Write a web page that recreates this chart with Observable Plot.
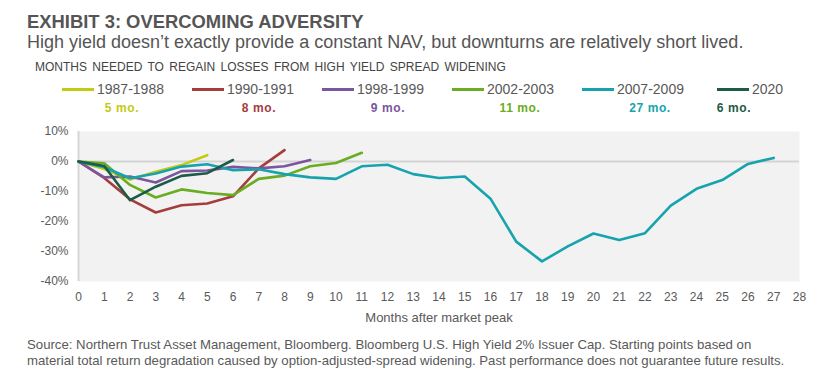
<!DOCTYPE html>
<html>
<head>
<meta charset="utf-8">
<script src="https://cdn.jsdelivr.net/npm/d3@7"></script>
<script src="https://cdn.jsdelivr.net/npm/@observablehq/plot@0.6"></script>
<style>
  html, body { margin: 0; padding: 0; background: #fff; }
  body { width: 834px; height: 381px; position: relative; overflow: hidden; font-family: "Liberation Sans", Arial, sans-serif; color: #595959; }
  .abs { position: absolute; white-space: nowrap; line-height: 1; }
  #title { left: 27px; top: 12.5px; font-size: 18.4px; font-weight: bold; color: #555; }
  #subtitle { left: 27px; top: 32.5px; font-size: 18px; color: #555; }
  #subhead { left: 35px; top: 60.5px; font-size: 12px; color: #444; word-spacing: 2px; }
  .leg { position: absolute; white-space: nowrap; line-height: 1; font-size: 14px; color: #595959; }
  .leg .sw { display: inline-block; width: 32px; height: 3px; vertical-align: middle; margin-right: 3px; position: relative; top: -1px; }
  .mo { position: absolute; white-space: nowrap; line-height: 1; font-size: 12px; font-weight: bold; letter-spacing: 0.6px; transform: translateX(-50%); }
  #chart { position: absolute; left: 0; top: 120px; }
  #source { left: 27px; top: 337px; font-size: 13.2px; line-height: 16px; color: #595959; }
</style>
</head>
<body>
<div id="title" class="abs">EXHIBIT 3: OVERCOMING ADVERSITY</div>
<div id="subtitle" class="abs">High yield doesn’t exactly provide a constant NAV, but downturns are relatively short lived.</div>
<div id="subhead" class="abs">MONTHS NEEDED TO REGAIN LOSSES FROM HIGH YIELD SPREAD WIDENING</div>
<div id="legend"></div>
<div id="chart"></div>
<div id="source" class="abs">Source: Northern Trust Asset Management, Bloomberg. Bloomberg U.S. High Yield 2% Issuer Cap. Starting points based on<br>material total return degradation caused by option-adjusted-spread widening. Past performance does not guarantee future results.</div>
<script>
// ---- data ----
const seriesNames = ["1987-1988", "1990-1991", "1998-1999", "2002-2003", "2007-2009", "2020"];
const seriesColors = ["#c2cb14", "#a63c3c", "#7b559d", "#6aac22", "#17a3ae", "#1c5b45"];
const recoveryLabels = ["5 mo.", "8 mo.", "9 mo.", "11 mo.", "27 mo.", "6 mo."];
const monthTicks = d3.range(0, 29);
const yTicks = [-40, -30, -20, -10, 0, 10];

const s1987 = [0, -2.5, -6.0, -3.4, -1.2, 2.1];
const s1990 = [0, -5.5, -12.6, -17.0, -14.6, -14.0, -11.6, -2.3, 3.8];
const s1998 = [0, -5.3, -5.0, -7.0, -3.2, -3.0, -1.8, -2.3, -1.6, 0.5];
const s2002 = [0, -0.6, -7.8, -12.0, -9.3, -10.5, -11.2, -5.8, -4.7, -1.6, -0.5, 2.9];
const s2007 = [0, -1.9, -5.6, -4.0, -1.7, -0.9, -2.9, -2.6, -4.2, -5.3, -5.8, -1.6, -1.1, -4.2, -5.5, -5.0, -12.4, -26.7, -33.3, -28.3, -24.0, -26.2, -23.9, -14.7, -9.1, -6.2, -0.8, 1.2];
const s2020 = [0, -1.5, -12.9, -8.4, -4.8, -3.9, 0.5];
const seriesValues = [s1987, s1990, s1998, s2002, s2007, s2020];

// ---- table ----
const data = seriesNames.flatMap((name, i) => seriesValues[i].map((v, m) => ({series: name, month: m, value: v})));

// ---- legend ----
const legend = document.getElementById("legend");
const legX = [62, 192, 322, 452, 582, 717];
const moX = [122, 259, 388, 520, 650, 734];
seriesNames.forEach((name, i) => {
  const d = document.createElement("div");
  d.className = "leg";
  d.style.left = legX[i] + "px";
  d.style.top = "82px";
  d.innerHTML = `<span class="sw" style="background:${seriesColors[i]}"></span>${name}`;
  legend.appendChild(d);
  const m = document.createElement("div");
  m.className = "mo";
  m.style.left = moX[i] + "px";
  m.style.top = "102px";
  m.style.color = seriesColors[i];
  m.textContent = recoveryLabels[i];
  legend.appendChild(m);
});

// ---- chart ----
const chart = Plot.plot({
  width: 834,
  height: 205,
  marginLeft: 78,
  marginRight: 35,
  marginTop: 11,
  marginBottom: 44,
  style: {fontFamily: "'Liberation Sans', Arial, sans-serif", fontSize: "12px", color: "#595959", background: "transparent", overflow: "visible"},
  x: {domain: [0, 28], ticks: monthTicks, tickSize: 0, tickPadding: 11, label: "Months after market peak", labelAnchor: "center", labelOffset: 40, labelArrow: "none"},
  y: {domain: [-40, 10], ticks: yTicks, tickSize: 0, tickPadding: 10, tickFormat: d => d + "%", label: null},
  color: {domain: seriesNames, range: seriesColors},
  marks: [
    Plot.frame({fill: "#f2f2f2", stroke: "none"}),
    Plot.ruleY([0], {stroke: "#d3d3d3", strokeWidth: 2}),
    Plot.ruleX([0], {stroke: "#d6d6d6", strokeWidth: 2}),
    Plot.line(data, {x: "month", y: "value", z: "series", stroke: "series", strokeWidth: 2.6, strokeLinejoin: "round"})
  ]
});
chart.querySelectorAll("g[aria-label='x-axis label'] text").forEach(t => t.style.fontSize = "13px");
document.getElementById("chart").appendChild(chart);
</script>
</body>
</html>
